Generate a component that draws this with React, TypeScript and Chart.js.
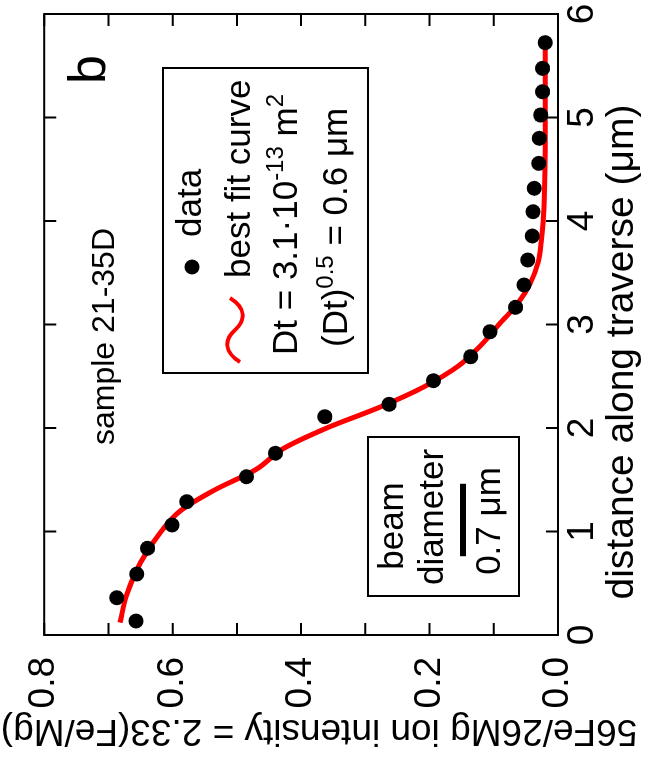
import React, { useEffect, useRef } from "react";
import { Chart, registerables } from "chart.js";

Chart.register(...registerables);

// ---- data (distance in µm, intensity ratio) ----
const distance = [0.135, 0.36, 0.589, 0.838, 1.063, 1.288, 1.529, 1.756, 2.109, 2.229, 2.457, 2.689, 2.93, 3.166, 3.382, 3.623, 3.855, 4.09, 4.316, 4.557, 4.799, 5.024, 5.249, 5.475, 5.723];
const intensity = [0.657, 0.687, 0.656, 0.639, 0.601, 0.578, 0.485, 0.44, 0.363, 0.263, 0.194, 0.136, 0.106, 0.066, 0.053, 0.047, 0.04, 0.039, 0.037, 0.03, 0.029, 0.027, 0.024, 0.024, 0.02];

const fitDistance = [0.12, 0.4, 0.7, 1.0, 1.2, 1.4, 1.6, 1.8, 2.0, 2.2, 2.4, 2.6, 2.8, 3.0, 3.2, 3.4, 3.6, 3.8, 4.0, 4.3, 4.7, 5.2, 5.72];
const fitIntensity = [0.682, 0.671, 0.65, 0.618, 0.588, 0.535, 0.47, 0.428, 0.36, 0.278, 0.208, 0.155, 0.12, 0.092, 0.063, 0.043, 0.031, 0.026, 0.023, 0.021, 0.02, 0.02, 0.02];

const xTickValues = [0, 1, 2, 3, 4, 5, 6];
const yTickValues = [0, 0.1, 0.2, 0.3, 0.4, 0.5, 0.6, 0.7, 0.8];

const xTitle = "distance along traverse (\u03bcm)";
const yTitle = "56Fe/26Mg ion intensity = 2.33(Fe/Mg)";
const panelLabel = "b";
const sampleLabel = "sample 21-35D";
const legendDataLabel = "data";
const legendFitLabel = "best fit curve";
const beamLines = ["beam", "diameter", "0.7 \u03bcm"];
const beamLength = 0.7;

const W = 762;
const H = 646;
const FONT = "'Liberation Sans', Arial, Helvetica, sans-serif";
const RED = "#ff0000";

type Seg = { t: string; size: number; dy: number };

function drawRich(ctx: CanvasRenderingContext2D, segs: Seg[], x: number, y: number) {
  let cx = x;
  ctx.textAlign = "left";
  ctx.textBaseline = "alphabetic";
  for (const s of segs) {
    ctx.font = `${s.size}px ${FONT}`;
    ctx.fillText(s.t, cx, y + s.dy);
    cx += ctx.measureText(s.t).width;
  }
}

const decorPlugin = {
  id: "decor",
  afterDraw(chart: any) {
    const ctx: CanvasRenderingContext2D = chart.ctx;
    const a = chart.chartArea;
    const xs = chart.scales.x;
    const ys = chart.scales.y;
    ctx.save();
    ctx.fillStyle = "#000";
    ctx.strokeStyle = "#000";

    // frame
    ctx.lineWidth = 2;
    ctx.strokeRect(a.left, a.top, a.right - a.left, a.bottom - a.top);

    // inward ticks (mirrored)
    const tl = 12;
    ctx.beginPath();
    for (const v of xTickValues) {
      const px = xs.getPixelForValue(v);
      ctx.moveTo(px, a.bottom);
      ctx.lineTo(px, a.bottom - tl);
      ctx.moveTo(px, a.top);
      ctx.lineTo(px, a.top + tl);
    }
    for (const v of yTickValues) {
      const py = ys.getPixelForValue(v);
      ctx.moveTo(a.left, py);
      ctx.lineTo(a.left + tl, py);
      ctx.moveTo(a.right, py);
      ctx.lineTo(a.right - tl, py);
    }
    ctx.stroke();

    // axis titles
    ctx.font = `39px ${FONT}`;
    ctx.textAlign = "center";
    ctx.textBaseline = "alphabetic";
    ctx.fillText(xTitle, 410, 633);

    ctx.save();
    ctx.translate(42, 319);
    ctx.rotate(-Math.PI / 2);
    ctx.font = `37px ${FONT}`;
    ctx.textAlign = "center";
    ctx.fillText(yTitle, 0, 0);
    ctx.restore();

    // panel label
    ctx.font = `52px ${FONT}`;
    ctx.textAlign = "left";
    ctx.fillText(panelLabel, 678, 105);

    // sample label
    ctx.font = `32px ${FONT}`;
    ctx.fillText(sampleLabel, 317, 114);

    // legend box
    ctx.lineWidth = 2;
    ctx.strokeRect(389, 163, 305, 205);
    ctx.beginPath();
    ctx.arc(495, 192, 7.5, 0, Math.PI * 2);
    ctx.fill();
    ctx.font = `35px ${FONT}`;
    ctx.fillText(legendDataLabel, 525, 201);

    ctx.save();
    ctx.strokeStyle = RED;
    ctx.lineWidth = 4;
    ctx.lineCap = "butt";
    ctx.beginPath();
    ctx.moveTo(400, 240);
    ctx.bezierCurveTo(410, 224, 422, 224, 432, 235);
    ctx.bezierCurveTo(442, 246, 454, 246, 464, 230);
    ctx.stroke();
    ctx.restore();

    ctx.font = `35px ${FONT}`;
    ctx.fillText(legendFitLabel, 484, 250);

    drawRich(
      ctx,
      [
        { t: "Dt = 3.1\u00b710", size: 35, dy: 0 },
        { t: "-13", size: 24, dy: -14 },
        { t: " m", size: 35, dy: 0 },
        { t: "2", size: 24, dy: -14 },
      ],
      407,
      297
    );
    drawRich(
      ctx,
      [
        { t: "(Dt)", size: 35, dy: 0 },
        { t: "0.5", size: 24, dy: -14 },
        { t: " = 0.6 \u03bcm", size: 35, dy: 0 },
      ],
      415,
      347
    );

    // beam diameter box
    ctx.lineWidth = 2;
    ctx.strokeRect(166, 368, 159, 151);
    ctx.font = `35px ${FONT}`;
    ctx.textAlign = "center";
    ctx.fillText(beamLines[0], 236, 403);
    ctx.fillText(beamLines[1], 245, 443);
    ctx.fillText(beamLines[2], 241, 500);
    const half = (xs.getPixelForValue(beamLength) - xs.getPixelForValue(0)) / 2;
    ctx.fillRect(242 - half, 460, half * 2, 6);

    ctx.restore();
  },
};

export default function App() {
  const ref = useRef<HTMLCanvasElement | null>(null);

  useEffect(() => {
    if (!ref.current) return;
    const chart = new Chart(ref.current, {
      type: "scatter",
      data: {
        datasets: [
          {
            label: legendDataLabel,
            data: distance.map((d, i) => ({ x: d, y: intensity[i] })),
            showLine: false,
            pointRadius: 7.5,
            pointBackgroundColor: "#000",
            pointBorderWidth: 0,
            pointBorderColor: "#000",
          },
          {
            label: legendFitLabel,
            data: fitDistance.map((d, i) => ({ x: d, y: fitIntensity[i] })),
            showLine: true,
            borderColor: RED,
            borderWidth: 5,
            pointRadius: 0,
            cubicInterpolationMode: "monotone",
            fill: false,
          },
        ],
      },
      options: {
        responsive: false,
        animation: false,
        devicePixelRatio: 1,
        layout: { padding: { top: 39, right: 14, left: 0, bottom: 0 } },
        plugins: { legend: { display: false }, tooltip: { enabled: false } },
        scales: {
          x: {
            type: "linear",
            min: 0,
            max: 6,
            afterFit: (s: any) => {
              s.height = 88;
            },
            afterBuildTicks: (s: any) => {
              s.ticks = xTickValues.map((v) => ({ value: v }));
            },
            grid: { display: false, drawTicks: false },
            border: { display: false },
            ticks: {
              color: "#000",
              padding: 3,
              font: { size: 37, family: FONT },
              callback: (v: any) => String(v),
            },
          },
          y: {
            type: "linear",
            min: 0,
            max: 0.8,
            afterFit: (s: any) => {
              s.width = 127;
            },
            afterBuildTicks: (s: any) => {
              s.ticks = yTickValues.map((v) => ({ value: v }));
            },
            grid: { display: false, drawTicks: false },
            border: { display: false },
            ticks: {
              color: "#000",
              padding: 22,
              font: { size: 37, family: FONT },
              callback: (v: any) => (Math.round(Number(v) * 10) % 2 === 0 ? Number(v).toFixed(1) : ""),
            },
          },
        },
      },
      plugins: [decorPlugin],
    } as any);
    return () => chart.destroy();
  }, []);

  return (
    <div style={{ position: "absolute", left: 0, top: 0, width: 646, height: 762, overflow: "hidden", background: "#fff" }}>
      <div
        style={{
          position: "absolute",
          left: 0,
          top: 0,
          width: W,
          height: H,
          transformOrigin: "0 0",
          transform: `translateY(${W}px) rotate(-90deg)`,
        }}
      >
        <canvas ref={ref} width={W} height={H} style={{ display: "block", width: W, height: H }} />
      </div>
    </div>
  );
}
